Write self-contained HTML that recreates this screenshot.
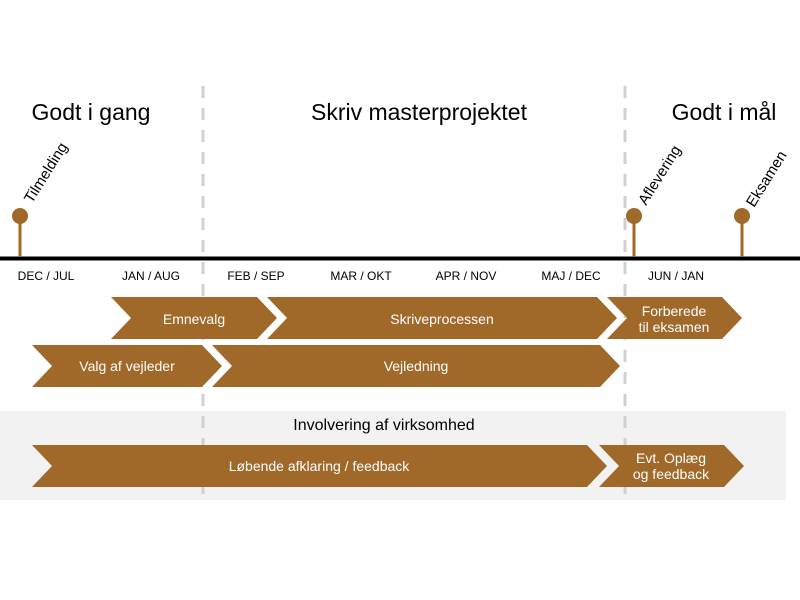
<!DOCTYPE html>
<html><head><meta charset="utf-8"><style>
body{margin:0;width:800px;height:600px;background:#fff;overflow:hidden}
svg{display:block;font-family:"Liberation Sans",Arial,sans-serif}
</style></head><body>
<svg width="800" height="600" viewBox="0 0 800 600">
<rect x="0" y="411" width="786" height="89" fill="#f2f2f2"/>
<g stroke="#d0d0d0" stroke-width="3" stroke-dasharray="12,10">
<line x1="203" y1="86" x2="203" y2="496"/>
<line x1="625" y1="86" x2="625" y2="496"/>
</g>
<g font-size="23" fill="#000" text-anchor="middle">
<text x="91" y="120">Godt i gang</text>
<text x="419" y="120">Skriv masterprojektet</text>
<text x="724" y="120">Godt i mål</text>
</g>
<line x1="0" y1="258.5" x2="800" y2="258.5" stroke="#000" stroke-width="4"/>
<g fill="#A0692A" stroke="#A0692A">
<line x1="20" y1="216" x2="20" y2="257" stroke-width="3"/><circle cx="20" cy="216" r="8" stroke="none"/>
<line x1="634" y1="216" x2="634" y2="257" stroke-width="3"/><circle cx="634" cy="216" r="8" stroke="none"/>
<line x1="742" y1="216" x2="742" y2="257" stroke-width="3"/><circle cx="742" cy="216" r="8" stroke="none"/>
</g>
<g font-size="15" fill="#000">
<text transform="translate(32,204) rotate(-58)">Tilmelding</text>
<text transform="translate(646,206) rotate(-58)">Aflevering</text>
<text transform="translate(754,208) rotate(-58)">Eksamen</text>
</g>
<g font-size="12" fill="#000" text-anchor="middle">
<text x="46" y="280">DEC / JUL</text>
<text x="151" y="280">JAN / AUG</text>
<text x="256" y="280">FEB / SEP</text>
<text x="361" y="280">MAR / OKT</text>
<text x="466" y="280">APR / NOV</text>
<text x="571" y="280">MAJ / DEC</text>
<text x="676" y="280">JUN / JAN</text>
</g>
<g fill="#A0692A">
<polygon points="111,297 257,297 277,318 257,339 111,339 131,318"/>
<polygon points="267,297 597,297 617,318 597,339 267,339 287,318"/>
<polygon points="607,297 722,297 742,318 722,339 607,339 627,318"/>
<polygon points="32,345 202,345 222,366 202,387 32,387 52,366"/>
<polygon points="212,345 600,345 620,366 600,387 212,387 232,366"/>
<polygon points="32,445 587,445 607,466 587,487 32,487 52,466"/>
<polygon points="599,445 724,445 744,466 724,487 599,487 619,466"/>
</g>
<g font-size="14" fill="#fff" text-anchor="middle">
<text x="194" y="324">Emnevalg</text>
<text x="442" y="324">Skriveprocessen</text>
<text x="674" y="316">Forberede</text>
<text x="674" y="332">til eksamen</text>
<text x="127" y="371">Valg af vejleder</text>
<text x="416" y="371">Vejledning</text>
<text x="319" y="471">Løbende afklaring / feedback</text>
<text x="671" y="463">Evt. Oplæg</text>
<text x="671" y="479">og feedback</text>
</g>
<text x="384" y="430" font-size="16" fill="#000" text-anchor="middle">Involvering af virksomhed</text>
</svg>
</body></html>
